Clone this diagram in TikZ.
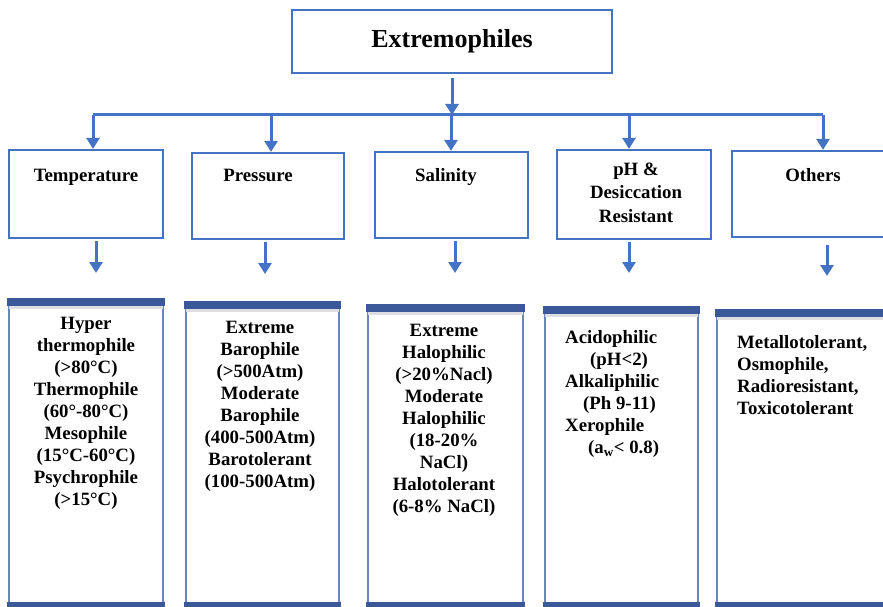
\documentclass[tikz,border=0pt]{standalone}
\usepackage{fontspec}
\setmainfont{Liberation Serif}
\usetikzlibrary{arrows.meta,positioning}
\definecolor{linecol}{RGB}{68,114,196}
\definecolor{barcol}{RGB}{59,89,152}
\definecolor{sidecol}{RGB}{105,133,193}
\definecolor{shadecol}{RGB}{222,222,226}
\tikzset{
  arr/.style={linecol, line width=3pt, -{Triangle[width=13pt,length=11pt]}},
  headbox/.style={draw=linecol, line width=2.2pt, inner sep=0pt},
  subbox/.style={draw=sidecol, line width=2.2pt, inner sep=0pt, anchor=north},
  headtxt/.style={font=\bfseries\fontsize{18.8}{23.5}\selectfont, align=center, inner sep=0pt, anchor=north},
  subtxt/.style={font=\bfseries\fontsize{18.8}{22}\selectfont, inner sep=0pt, anchor=north}
}

\begin{document}
\begin{tikzpicture}[x=1pt, y=-1pt]
    \useasboundingbox (0,0) rectangle (883,607);
% Title
    \node[headbox, minimum width=320pt, minimum height=63pt,
          font=\bfseries\fontsize{26}{30}\selectfont] (extremo) at (452,41.5) {Extremophiles};
% Bus
    \coordinate (bus) at (452,115);
    \coordinate (busL) at (93,115);
    \coordinate (j2) at (271,115);
    \coordinate (j3) at (451,115);
    \coordinate (j4) at (629,115);
    \coordinate (busR) at (823,115);
    \draw[arr, shorten <=4pt] (extremo.south) -- (bus);
    \draw[linecol, line width=3pt] (busL) -- (busR);
% Categories
    \node[headbox, minimum width=154pt, minimum height=88pt] (temp) at (86,194) {};
    \node[headbox, minimum width=152pt, minimum height=86pt] (press) at (268,196) {};
    \node[headbox, minimum width=153pt, minimum height=86pt] (salin) at (451.5,195) {};
    \node[headbox, minimum width=154pt, minimum height=89pt] (phdes) at (634,194.5) {};
    \node[headbox, minimum width=168pt, minimum height=86pt] (other) at (816,194) {};
    \node[headtxt] (tempLbl) at (86,168.5) {Temperature};
    \node[headtxt] (pressLbl) at (258,168.5) {Pressure};
    \node[headtxt] (salinLbl) at (446,168) {Salinity};
    \node[headtxt] (phdesLbl) at (636,162.5) {pH \&\\Desiccation\\Resistant};
    \node[headtxt] (otherLbl) at (813,168.5) {Others};
    \draw[arr] (busL) -- (busL |- temp.north);
    \draw[arr] (j2) -- (j2 |- press.north);
    \draw[arr] (j3) -- (j3 |- salin.north);
    \draw[arr] (j4) -- (j4 |- phdes.north);
    \draw[arr] (busR) -- (busR |- other.north);
% Lists
    \node[subbox, minimum width=154pt, minimum height=314pt] (tempsub) at (86,298) {};
    \node[subbox, minimum width=153pt, minimum height=311pt] (presssub) at (262.5,301) {};
    \node[subbox, minimum width=155pt, minimum height=308pt] (salinsub) at (445.5,304) {};
    \node[subbox, minimum width=153pt, minimum height=306pt] (phdessub) at (621.5,306) {};
    \node[subbox, minimum width=183pt, minimum height=303pt] (othersub) at (808.5,309) {};
% Bars
    \fill[barcol] ([xshift=-1pt]tempsub.north west) rectangle ([xshift=1pt,yshift=-8pt]tempsub.north east);
    \fill[shadecol] ([xshift=1pt,yshift=-8pt]tempsub.north west) rectangle ([xshift=-1pt,yshift=-11pt]tempsub.north east);
    \fill[barcol] ([xshift=-1pt,yshift=12pt]tempsub.south west) rectangle ([xshift=1pt]tempsub.south east);
    \fill[barcol] ([xshift=-1pt]presssub.north west) rectangle ([xshift=1pt,yshift=-8pt]presssub.north east);
    \fill[shadecol] ([xshift=1pt,yshift=-8pt]presssub.north west) rectangle ([xshift=-1pt,yshift=-11pt]presssub.north east);
    \fill[barcol] ([xshift=-1pt,yshift=12pt]presssub.south west) rectangle ([xshift=1pt]presssub.south east);
    \fill[barcol] ([xshift=-1pt]salinsub.north west) rectangle ([xshift=1pt,yshift=-8pt]salinsub.north east);
    \fill[shadecol] ([xshift=1pt,yshift=-8pt]salinsub.north west) rectangle ([xshift=-1pt,yshift=-11pt]salinsub.north east);
    \fill[barcol] ([xshift=-1pt,yshift=12pt]salinsub.south west) rectangle ([xshift=1pt]salinsub.south east);
    \fill[barcol] ([xshift=-1pt]phdessub.north west) rectangle ([xshift=1pt,yshift=-8pt]phdessub.north east);
    \fill[shadecol] ([xshift=1pt,yshift=-8pt]phdessub.north west) rectangle ([xshift=-1pt,yshift=-11pt]phdessub.north east);
    \fill[barcol] ([xshift=-1pt,yshift=12pt]phdessub.south west) rectangle ([xshift=1pt]phdessub.south east);
    \fill[barcol] ([xshift=-1pt]othersub.north west) rectangle ([xshift=1pt,yshift=-8pt]othersub.north east);
    \fill[shadecol] ([xshift=1pt,yshift=-8pt]othersub.north west) rectangle ([xshift=-1pt,yshift=-11pt]othersub.north east);
    \fill[barcol] ([xshift=-1pt,yshift=12pt]othersub.south west) rectangle ([xshift=1pt]othersub.south east);
% Down arrows
    \coordinate (d1) at (96,0);
    \coordinate (d2) at (265,0);
    \coordinate (d3) at (455,0);
    \coordinate (d4) at (629,0);
    \coordinate (d5) at (827,0);
    \draw[arr, shorten <=2pt] (d1 |- temp.south) -- ([yshift=25pt]d1 |- tempsub.north);
    \draw[arr, shorten <=2pt] (d2 |- press.south) -- ([yshift=27pt]d2 |- presssub.north);
    \draw[arr, shorten <=2pt] (d3 |- salin.south) -- ([yshift=31pt]d3 |- salinsub.north);
    \draw[arr, shorten <=2pt] (d4 |- phdes.south) -- ([yshift=33pt]d4 |- phdessub.north);
    \draw[arr, shorten <=7pt] (d5 |- other.south) -- ([yshift=33pt]d5 |- othersub.north);
% Texts
    \node[subtxt, align=center] (tempTxt) at (86,316.5) {Hyper\\thermophile\\(>80°C)\\Thermophile\\(60°-80°C)\\Mesophile\\(15°C-60°C)\\Psychrophile\\(>15°C)};
    \node[subtxt, align=center] (pressTxt) at (260,320.5) {Extreme\\Barophile\\(>500Atm)\\Moderate\\Barophile\\(400-500Atm)\\Barotolerant\\(100-500Atm)};
    \node[subtxt, align=center] (salinTxt) at (444,323.5) {Extreme\\Halophilic\\(>20\%Nacl)\\Moderate\\Halophilic\\(18-20\%\\NaCl)\\Halotolerant\\(6-8\% NaCl)};
    \node[subtxt, align=left, anchor=north west] (phdesTxt) at (565,330.5) {Acidophilic\\\hspace*{25pt}(pH<2)\\Alkaliphilic\\\hspace*{18pt}(Ph 9-11)\\Xerophile\\\hspace*{23pt}(a\textsubscript{w}< 0.8)};
    \node[subtxt, align=left, anchor=north west] (otherTxt) at (737,335.5) {Metallotolerant,\\Osmophile,\\Radioresistant,\\Toxicotolerant};
\end{tikzpicture}
\end{document}
